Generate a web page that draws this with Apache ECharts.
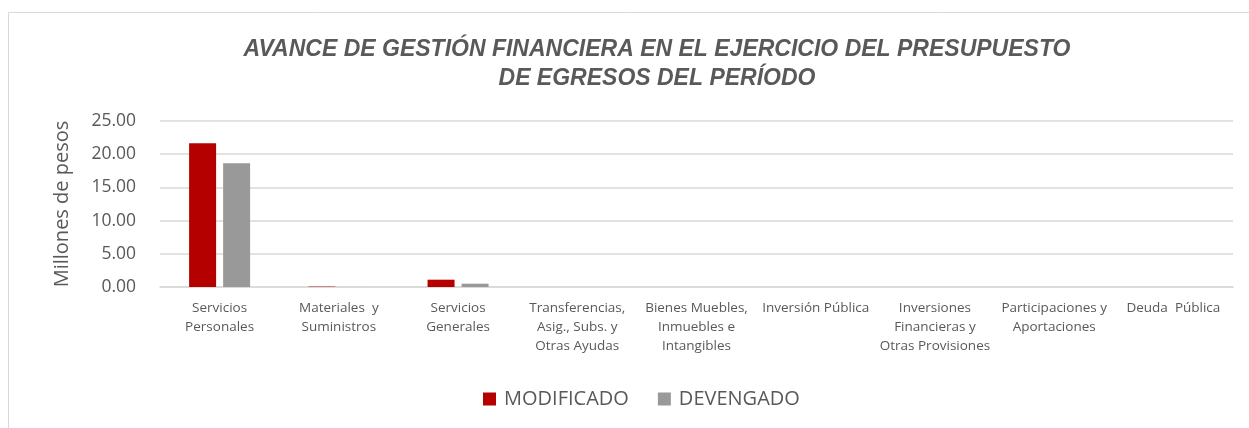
<!DOCTYPE html>
<html>
<head>
<meta charset="utf-8">
<script src="https://cdn.jsdelivr.net/npm/echarts@6/dist/echarts.min.js"></script>
<style>
  html, body { margin: 0; padding: 0; background: #fff; }
  #main { width: 1249px; height: 428px; }
</style>
</head>
<body>
<div id="main"></div>
<script>
// categorias del capitulo de gasto
var categorias = [
  'Servicios\nPersonales',
  'Materiales  y\nSuministros',
  'Servicios\nGenerales',
  'Transferencias,\nAsig., Subs. y\nOtras Ayudas',
  'Bienes Muebles,\nInmuebles e\nIntangibles',
  'Inversión Pública',
  'Inversiones\nFinancieras y\nOtras Provisiones',
  'Participaciones y\nAportaciones',
  'Deuda  Pública'
];
var modificado = [21.65, 0.06, 1.1, 0, 0, 0, 0, 0, 0];
var devengado = [18.65, 0.01, 0.5, 0, 0, 0, 0, 0, 0];
var ticksY = [0, 5, 10, 15, 20, 25];

var gris = '#595959';
var myChart = echarts.init(document.getElementById('main'));

var option = {
  animation: false,
  title: {
    text: 'AVANCE DE GESTIÓN FINANCIERA EN EL EJERCICIO DEL PRESUPUESTO\nDE EGRESOS DEL PERÍODO',
    left: 652,
    top: 30,
    textAlign: 'center',
    textStyle: {
      fontFamily: 'Liberation Sans',
      fontStyle: 'italic',
      fontWeight: 'bold',
      fontSize: 23,
      lineHeight: 29,
      color: gris
    }
  },
  graphic: [{
    type: 'rect',
    shape: { x: 8.5, y: 12.5, width: 1260, height: 430 },
    style: { fill: 'none', stroke: '#d9d9d9', lineWidth: 1 },
    silent: true
  }],
  legend: {
    top: 384,
    left: 478,
    itemWidth: 13,
    itemHeight: 13,
    itemGap: 29,
    icon: 'rect',
    textStyle: { fontFamily: 'Open Sans', fontSize: 20, color: gris, padding: [0, 0, 0, 3] },
    data: ['MODIFICADO', 'DEVENGADO']
  },
  grid: { left: 160, right: 16, top: 121, height: 166 },
  xAxis: {
    type: 'category',
    data: categorias,
    axisTick: { show: false },
    axisLine: { lineStyle: { color: '#d9d9d9', width: 1.5 } },
    axisLabel: {
      interval: 0,
      fontFamily: 'Open Sans',
      fontSize: 13.5,
      lineHeight: 19,
      color: gris,
      margin: 12,
      align: 'center'
    }
  },
  yAxis: {
    type: 'value',
    min: ticksY[0],
    max: ticksY[ticksY.length - 1],
    interval: 5,
    name: 'Millones de pesos',
    nameLocation: 'middle',
    nameGap: 88,
    nameRotate: 90,
    nameTextStyle: { fontFamily: 'Open Sans', fontSize: 20, color: gris },
    axisLine: { show: false },
    axisTick: { show: false },
    splitLine: { lineStyle: { color: '#d9d9d9', width: 1.5 } },
    axisLabel: {
      fontFamily: 'Open Sans',
      fontSize: 17.5,
      color: gris,
      margin: 24,
      formatter: function (v) { return v.toFixed(2); }
    }
  },
  series: [{
    name: 'MODIFICADO',
    type: 'bar',
    data: modificado,
    barWidth: 27,
    barGap: '26%',
    itemStyle: { color: '#B50000' }
  }, {
    name: 'DEVENGADO',
    type: 'bar',
    data: devengado,
    barWidth: 27,
    itemStyle: { color: '#999999' }
  }]
};
myChart.setOption(option);
</script>
</body>
</html>
